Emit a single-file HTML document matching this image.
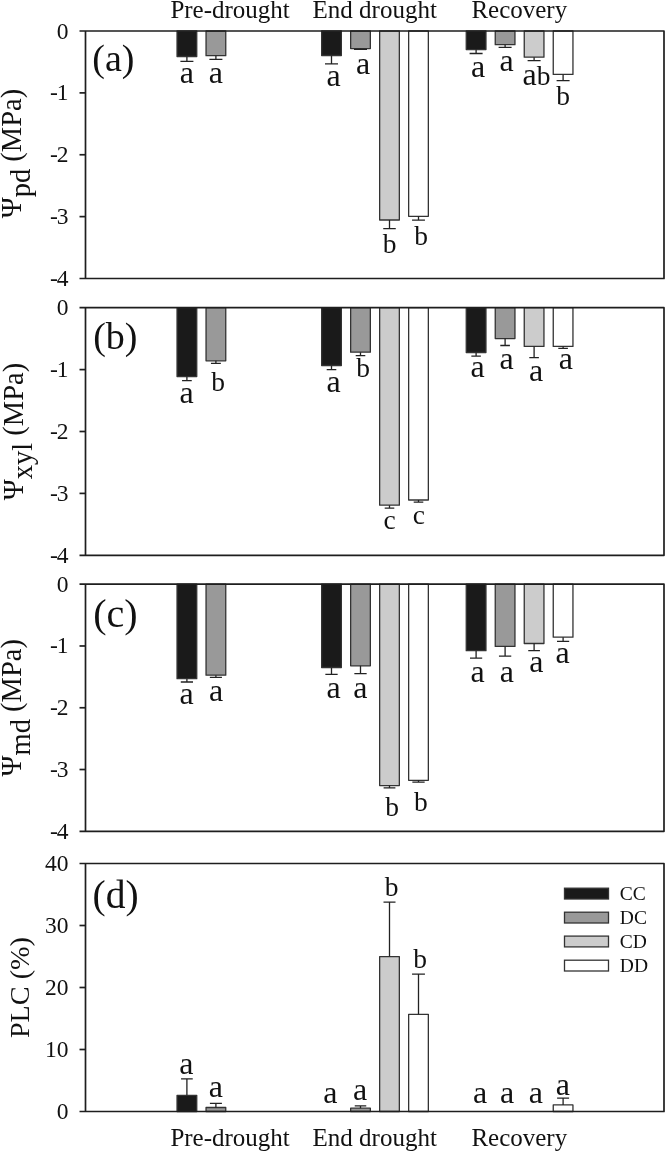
<!DOCTYPE html>
<html><head><meta charset="utf-8"><style>
html,body{margin:0;padding:0;background:#fff;width:666px;height:1153px;overflow:hidden}
text{fill:#111}
</style></head><body>
<svg width="666" height="1153" viewBox="0 0 666 1153" style="display:block;filter:grayscale(1)">
<rect width="666" height="1153" fill="#fff"/>
<rect x="177.05" y="31.00" width="19.70" height="25.50" fill="#1a1a1a" stroke="#333" stroke-width="1.3" stroke-linejoin="round"/>
<path d="M186.90 56.50V61.40M180.40 61.40H193.40" stroke="#222" stroke-width="1.3" fill="none"/>
<rect x="206.05" y="31.00" width="19.70" height="24.70" fill="#999999" stroke="#333" stroke-width="1.3" stroke-linejoin="round"/>
<path d="M215.90 55.70V59.30M209.40 59.30H222.40" stroke="#222" stroke-width="1.3" fill="none"/>
<rect x="321.65" y="31.00" width="19.70" height="24.50" fill="#1a1a1a" stroke="#333" stroke-width="1.3" stroke-linejoin="round"/>
<path d="M331.50 55.50V63.90M325.00 63.90H338.00" stroke="#222" stroke-width="1.3" fill="none"/>
<rect x="350.65" y="31.00" width="19.70" height="17.60" fill="#999999" stroke="#333" stroke-width="1.3" stroke-linejoin="round"/>
<path d="M360.50 48.60V49.30M354.00 49.30H367.00" stroke="#222" stroke-width="1.3" fill="none"/>
<rect x="379.65" y="31.00" width="19.70" height="189.00" fill="#cccccc" stroke="#333" stroke-width="1.3" stroke-linejoin="round"/>
<path d="M389.50 220.00V228.60M383.25 228.60H395.75" stroke="#222" stroke-width="1.3" fill="none"/>
<rect x="408.65" y="31.00" width="19.70" height="185.30" fill="#ffffff" stroke="#333" stroke-width="1.3" stroke-linejoin="round"/>
<path d="M418.50 216.30V220.20M412.05 220.20H424.95" stroke="#222" stroke-width="1.3" fill="none"/>
<rect x="466.25" y="31.00" width="19.70" height="18.60" fill="#1a1a1a" stroke="#333" stroke-width="1.3" stroke-linejoin="round"/>
<path d="M476.10 49.60V53.50M469.60 53.50H482.60" stroke="#222" stroke-width="1.3" fill="none"/>
<rect x="495.25" y="31.00" width="19.70" height="13.70" fill="#999999" stroke="#333" stroke-width="1.3" stroke-linejoin="round"/>
<path d="M505.10 44.70V47.30M498.60 47.30H511.60" stroke="#222" stroke-width="1.3" fill="none"/>
<rect x="524.25" y="31.00" width="19.70" height="26.20" fill="#cccccc" stroke="#333" stroke-width="1.3" stroke-linejoin="round"/>
<path d="M534.10 57.20V60.70M527.60 60.70H540.60" stroke="#222" stroke-width="1.3" fill="none"/>
<rect x="553.25" y="31.00" width="19.70" height="43.40" fill="#ffffff" stroke="#333" stroke-width="1.3" stroke-linejoin="round"/>
<path d="M563.10 74.40V80.60M556.60 80.60H569.60" stroke="#222" stroke-width="1.3" fill="none"/>
<rect x="177.05" y="307.70" width="19.70" height="68.90" fill="#1a1a1a" stroke="#333" stroke-width="1.3" stroke-linejoin="round"/>
<path d="M186.90 376.60V380.70M182.05 380.70H191.75" stroke="#222" stroke-width="1.3" fill="none"/>
<rect x="206.05" y="307.70" width="19.70" height="53.10" fill="#999999" stroke="#333" stroke-width="1.3" stroke-linejoin="round"/>
<path d="M215.90 360.80V363.30M210.95 363.30H220.85" stroke="#222" stroke-width="1.3" fill="none"/>
<rect x="321.65" y="307.70" width="19.70" height="57.80" fill="#1a1a1a" stroke="#333" stroke-width="1.3" stroke-linejoin="round"/>
<path d="M331.50 365.50V369.70M326.70 369.70H336.30" stroke="#222" stroke-width="1.3" fill="none"/>
<rect x="350.65" y="307.70" width="19.70" height="44.50" fill="#999999" stroke="#333" stroke-width="1.3" stroke-linejoin="round"/>
<path d="M360.50 352.20V355.60M355.70 355.60H365.30" stroke="#222" stroke-width="1.3" fill="none"/>
<rect x="379.65" y="307.70" width="19.70" height="197.50" fill="#cccccc" stroke="#333" stroke-width="1.3" stroke-linejoin="round"/>
<path d="M389.50 505.20V508.10M384.70 508.10H394.30" stroke="#222" stroke-width="1.3" fill="none"/>
<rect x="408.65" y="307.70" width="19.70" height="192.30" fill="#ffffff" stroke="#333" stroke-width="1.3" stroke-linejoin="round"/>
<path d="M418.50 500.00V502.10M413.70 502.10H423.30" stroke="#222" stroke-width="1.3" fill="none"/>
<rect x="466.25" y="307.70" width="19.70" height="44.80" fill="#1a1a1a" stroke="#333" stroke-width="1.3" stroke-linejoin="round"/>
<path d="M476.10 352.50V356.10M471.35 356.10H480.85" stroke="#222" stroke-width="1.3" fill="none"/>
<rect x="495.25" y="307.70" width="19.70" height="30.90" fill="#999999" stroke="#333" stroke-width="1.3" stroke-linejoin="round"/>
<path d="M505.10 338.60V345.50M500.30 345.50H509.90" stroke="#222" stroke-width="1.3" fill="none"/>
<rect x="524.25" y="307.70" width="19.70" height="38.70" fill="#cccccc" stroke="#333" stroke-width="1.3" stroke-linejoin="round"/>
<path d="M534.10 346.40V357.70M529.30 357.70H538.90" stroke="#222" stroke-width="1.3" fill="none"/>
<rect x="553.25" y="307.70" width="19.70" height="38.70" fill="#ffffff" stroke="#333" stroke-width="1.3" stroke-linejoin="round"/>
<path d="M563.10 346.40V348.30M558.30 348.30H567.90" stroke="#222" stroke-width="1.3" fill="none"/>
<rect x="177.05" y="584.20" width="19.70" height="94.50" fill="#1a1a1a" stroke="#333" stroke-width="1.3" stroke-linejoin="round"/>
<path d="M186.90 678.70V682.00M180.80 682.00H193.00" stroke="#222" stroke-width="1.3" fill="none"/>
<rect x="206.05" y="584.20" width="19.70" height="91.00" fill="#999999" stroke="#333" stroke-width="1.3" stroke-linejoin="round"/>
<path d="M215.90 675.20V677.30M209.85 677.30H221.95" stroke="#222" stroke-width="1.3" fill="none"/>
<rect x="321.65" y="584.20" width="19.70" height="83.30" fill="#1a1a1a" stroke="#333" stroke-width="1.3" stroke-linejoin="round"/>
<path d="M331.50 667.50V674.40M325.35 674.40H337.65" stroke="#222" stroke-width="1.3" fill="none"/>
<rect x="350.65" y="584.20" width="19.70" height="81.60" fill="#999999" stroke="#333" stroke-width="1.3" stroke-linejoin="round"/>
<path d="M360.50 665.80V673.60M354.35 673.60H366.65" stroke="#222" stroke-width="1.3" fill="none"/>
<rect x="379.65" y="584.20" width="19.70" height="201.40" fill="#cccccc" stroke="#333" stroke-width="1.3" stroke-linejoin="round"/>
<path d="M389.50 785.60V787.90M383.60 787.90H395.40" stroke="#222" stroke-width="1.3" fill="none"/>
<rect x="408.65" y="584.20" width="19.70" height="196.10" fill="#ffffff" stroke="#333" stroke-width="1.3" stroke-linejoin="round"/>
<path d="M418.50 780.30V782.10M412.35 782.10H424.65" stroke="#222" stroke-width="1.3" fill="none"/>
<rect x="466.25" y="584.20" width="19.70" height="66.50" fill="#1a1a1a" stroke="#333" stroke-width="1.3" stroke-linejoin="round"/>
<path d="M476.10 650.70V658.10M470.00 658.10H482.20" stroke="#222" stroke-width="1.3" fill="none"/>
<rect x="495.25" y="584.20" width="19.70" height="62.20" fill="#999999" stroke="#333" stroke-width="1.3" stroke-linejoin="round"/>
<path d="M505.10 646.40V656.10M498.95 656.10H511.25" stroke="#222" stroke-width="1.3" fill="none"/>
<rect x="524.25" y="584.20" width="19.70" height="59.30" fill="#cccccc" stroke="#333" stroke-width="1.3" stroke-linejoin="round"/>
<path d="M534.10 643.50V650.70M528.25 650.70H539.95" stroke="#222" stroke-width="1.3" fill="none"/>
<rect x="553.25" y="584.20" width="19.70" height="53.00" fill="#ffffff" stroke="#333" stroke-width="1.3" stroke-linejoin="round"/>
<path d="M563.10 637.20V641.30M557.00 641.30H569.20" stroke="#222" stroke-width="1.3" fill="none"/>
<rect x="177.05" y="1095.30" width="19.70" height="16.20" fill="#1a1a1a" stroke="#333" stroke-width="1.3" stroke-linejoin="round"/>
<path d="M186.90 1095.30V1078.80M181.05 1078.80H192.75" stroke="#222" stroke-width="1.3" fill="none"/>
<rect x="206.05" y="1107.50" width="19.70" height="4.00" fill="#999999" stroke="#333" stroke-width="1.3" stroke-linejoin="round"/>
<path d="M215.90 1107.50V1103.40M209.90 1103.40H221.90" stroke="#222" stroke-width="1.3" fill="none"/>
<rect x="350.65" y="1108.20" width="19.70" height="3.30" fill="#999999" stroke="#333" stroke-width="1.3" stroke-linejoin="round"/>
<path d="M360.50 1108.20V1105.80M354.75 1105.80H366.25" stroke="#222" stroke-width="1.3" fill="none"/>
<rect x="379.65" y="956.60" width="19.70" height="154.90" fill="#cccccc" stroke="#333" stroke-width="1.3" stroke-linejoin="round"/>
<path d="M389.50 956.60V902.20M383.50 902.20H395.50" stroke="#222" stroke-width="1.3" fill="none"/>
<rect x="408.65" y="1014.30" width="19.70" height="97.20" fill="#ffffff" stroke="#333" stroke-width="1.3" stroke-linejoin="round"/>
<path d="M418.50 1014.30V974.20M412.05 974.20H424.95" stroke="#222" stroke-width="1.3" fill="none"/>
<rect x="553.25" y="1104.90" width="19.70" height="6.60" fill="#ffffff" stroke="#333" stroke-width="1.3" stroke-linejoin="round"/>
<path d="M563.10 1104.90V1098.10M557.10 1098.10H569.10" stroke="#222" stroke-width="1.3" fill="none"/>
<path d="M79.5 31.0H664.0V278.5H79.5M85.5 31.0V278.5" stroke="#1e1e1e" stroke-width="1.7" stroke-linejoin="round" fill="none"/>
<text x="68.6" y="38.50" text-anchor="end" font-size="23.5" style='font-family:"Liberation Serif",serif'>0</text>
<path d="M79.5 92.88H85.5" stroke="#1e1e1e" stroke-width="1.7"/>
<text x="68.6" y="100.38" text-anchor="end" font-size="23.5" style='font-family:"Liberation Serif",serif'>-<tspan dx="-0.9">1</tspan></text>
<path d="M79.5 154.75H85.5" stroke="#1e1e1e" stroke-width="1.7"/>
<text x="68.6" y="162.25" text-anchor="end" font-size="23.5" style='font-family:"Liberation Serif",serif'>-<tspan dx="-0.9">2</tspan></text>
<path d="M79.5 216.62H85.5" stroke="#1e1e1e" stroke-width="1.7"/>
<text x="68.6" y="224.12" text-anchor="end" font-size="23.5" style='font-family:"Liberation Serif",serif'>-<tspan dx="-0.9">3</tspan></text>
<text x="68.6" y="286.00" text-anchor="end" font-size="23.5" style='font-family:"Liberation Serif",serif'>-<tspan dx="-0.9">4</tspan></text>
<path d="M79.5 307.7H664.0V555.3H79.5M85.5 307.7V555.3" stroke="#1e1e1e" stroke-width="1.7" stroke-linejoin="round" fill="none"/>
<text x="68.6" y="315.20" text-anchor="end" font-size="23.5" style='font-family:"Liberation Serif",serif'>0</text>
<path d="M79.5 369.60H85.5" stroke="#1e1e1e" stroke-width="1.7"/>
<text x="68.6" y="377.10" text-anchor="end" font-size="23.5" style='font-family:"Liberation Serif",serif'>-<tspan dx="-0.9">1</tspan></text>
<path d="M79.5 431.50H85.5" stroke="#1e1e1e" stroke-width="1.7"/>
<text x="68.6" y="439.00" text-anchor="end" font-size="23.5" style='font-family:"Liberation Serif",serif'>-<tspan dx="-0.9">2</tspan></text>
<path d="M79.5 493.40H85.5" stroke="#1e1e1e" stroke-width="1.7"/>
<text x="68.6" y="500.90" text-anchor="end" font-size="23.5" style='font-family:"Liberation Serif",serif'>-<tspan dx="-0.9">3</tspan></text>
<text x="68.6" y="562.80" text-anchor="end" font-size="23.5" style='font-family:"Liberation Serif",serif'>-<tspan dx="-0.9">4</tspan></text>
<path d="M79.5 584.2H664.0V831.3H79.5M85.5 584.2V831.3" stroke="#1e1e1e" stroke-width="1.7" stroke-linejoin="round" fill="none"/>
<text x="68.6" y="591.70" text-anchor="end" font-size="23.5" style='font-family:"Liberation Serif",serif'>0</text>
<path d="M79.5 645.98H85.5" stroke="#1e1e1e" stroke-width="1.7"/>
<text x="68.6" y="653.48" text-anchor="end" font-size="23.5" style='font-family:"Liberation Serif",serif'>-<tspan dx="-0.9">1</tspan></text>
<path d="M79.5 707.75H85.5" stroke="#1e1e1e" stroke-width="1.7"/>
<text x="68.6" y="715.25" text-anchor="end" font-size="23.5" style='font-family:"Liberation Serif",serif'>-<tspan dx="-0.9">2</tspan></text>
<path d="M79.5 769.52H85.5" stroke="#1e1e1e" stroke-width="1.7"/>
<text x="68.6" y="777.02" text-anchor="end" font-size="23.5" style='font-family:"Liberation Serif",serif'>-<tspan dx="-0.9">3</tspan></text>
<text x="68.6" y="838.80" text-anchor="end" font-size="23.5" style='font-family:"Liberation Serif",serif'>-<tspan dx="-0.9">4</tspan></text>
<path d="M79.5 863.5H664.0V1111.5H79.5M85.5 863.5V1111.5" stroke="#1e1e1e" stroke-width="1.7" stroke-linejoin="round" fill="none"/>
<text x="68.6" y="871.00" text-anchor="end" font-size="23.5" style='font-family:"Liberation Serif",serif'>40</text>
<path d="M79.5 925.50H85.5" stroke="#1e1e1e" stroke-width="1.7"/>
<text x="68.6" y="933.00" text-anchor="end" font-size="23.5" style='font-family:"Liberation Serif",serif'>30</text>
<path d="M79.5 987.50H85.5" stroke="#1e1e1e" stroke-width="1.7"/>
<text x="68.6" y="995.00" text-anchor="end" font-size="23.5" style='font-family:"Liberation Serif",serif'>20</text>
<path d="M79.5 1049.50H85.5" stroke="#1e1e1e" stroke-width="1.7"/>
<text x="68.6" y="1057.00" text-anchor="end" font-size="23.5" style='font-family:"Liberation Serif",serif'>10</text>
<text x="68.6" y="1119.00" text-anchor="end" font-size="23.5" style='font-family:"Liberation Serif",serif'>0</text>
<text x="186.90" y="82.60" text-anchor="middle" font-size="32" style='font-family:"Liberation Serif",serif'>a</text>
<text x="215.90" y="82.80" text-anchor="middle" font-size="32" style='font-family:"Liberation Serif",serif'>a</text>
<text x="333.60" y="85.50" text-anchor="middle" font-size="32" style='font-family:"Liberation Serif",serif'>a</text>
<text x="363.10" y="74.30" text-anchor="middle" font-size="32" style='font-family:"Liberation Serif",serif'>a</text>
<text x="389.50" y="253.30" text-anchor="middle" font-size="27.5" style='font-family:"Liberation Serif",serif'>b</text>
<text x="421.20" y="245.10" text-anchor="middle" font-size="27.5" style='font-family:"Liberation Serif",serif'>b</text>
<text x="478.05" y="77.00" text-anchor="middle" font-size="32" style='font-family:"Liberation Serif",serif'>a</text>
<text x="506.65" y="71.20" text-anchor="middle" font-size="32" style='font-family:"Liberation Serif",serif'>a</text>
<text x="536.40" y="85.30" text-anchor="middle" style='font-family:"Liberation Serif",serif'><tspan font-size="32">a</tspan><tspan font-size="27.5">b</tspan></text>
<text x="563.00" y="105.10" text-anchor="middle" font-size="27.5" style='font-family:"Liberation Serif",serif'>b</text>
<text x="186.50" y="403.20" text-anchor="middle" font-size="32" style='font-family:"Liberation Serif",serif'>a</text>
<text x="218.10" y="390.80" text-anchor="middle" font-size="27.5" style='font-family:"Liberation Serif",serif'>b</text>
<text x="333.60" y="392.30" text-anchor="middle" font-size="32" style='font-family:"Liberation Serif",serif'>a</text>
<text x="363.10" y="377.40" text-anchor="middle" font-size="27.5" style='font-family:"Liberation Serif",serif'>b</text>
<text x="389.50" y="529.20" text-anchor="middle" font-size="27.5" style='font-family:"Liberation Serif",serif'>c</text>
<text x="418.80" y="523.80" text-anchor="middle" font-size="27.5" style='font-family:"Liberation Serif",serif'>c</text>
<text x="477.70" y="376.90" text-anchor="middle" font-size="32" style='font-family:"Liberation Serif",serif'>a</text>
<text x="506.70" y="368.70" text-anchor="middle" font-size="32" style='font-family:"Liberation Serif",serif'>a</text>
<text x="536.10" y="380.50" text-anchor="middle" font-size="32" style='font-family:"Liberation Serif",serif'>a</text>
<text x="565.80" y="368.70" text-anchor="middle" font-size="32" style='font-family:"Liberation Serif",serif'>a</text>
<text x="186.70" y="704.30" text-anchor="middle" font-size="32" style='font-family:"Liberation Serif",serif'>a</text>
<text x="216.00" y="701.00" text-anchor="middle" font-size="32" style='font-family:"Liberation Serif",serif'>a</text>
<text x="333.70" y="697.90" text-anchor="middle" font-size="32" style='font-family:"Liberation Serif",serif'>a</text>
<text x="360.40" y="697.90" text-anchor="middle" font-size="32" style='font-family:"Liberation Serif",serif'>a</text>
<text x="392.10" y="816.40" text-anchor="middle" font-size="27.5" style='font-family:"Liberation Serif",serif'>b</text>
<text x="420.80" y="810.90" text-anchor="middle" font-size="27.5" style='font-family:"Liberation Serif",serif'>b</text>
<text x="477.50" y="681.50" text-anchor="middle" font-size="32" style='font-family:"Liberation Serif",serif'>a</text>
<text x="506.90" y="681.50" text-anchor="middle" font-size="32" style='font-family:"Liberation Serif",serif'>a</text>
<text x="536.30" y="671.90" text-anchor="middle" font-size="32" style='font-family:"Liberation Serif",serif'>a</text>
<text x="562.50" y="663.40" text-anchor="middle" font-size="32" style='font-family:"Liberation Serif",serif'>a</text>
<text x="186.40" y="1073.60" text-anchor="middle" font-size="32" style='font-family:"Liberation Serif",serif'>a</text>
<text x="215.80" y="1097.00" text-anchor="middle" font-size="32" style='font-family:"Liberation Serif",serif'>a</text>
<text x="330.30" y="1103.30" text-anchor="middle" font-size="32" style='font-family:"Liberation Serif",serif'>a</text>
<text x="360.00" y="1100.30" text-anchor="middle" font-size="32" style='font-family:"Liberation Serif",serif'>a</text>
<text x="391.60" y="895.60" text-anchor="middle" font-size="27.5" style='font-family:"Liberation Serif",serif'>b</text>
<text x="420.10" y="967.70" text-anchor="middle" font-size="27.5" style='font-family:"Liberation Serif",serif'>b</text>
<text x="480.10" y="1103.30" text-anchor="middle" font-size="32" style='font-family:"Liberation Serif",serif'>a</text>
<text x="507.00" y="1103.30" text-anchor="middle" font-size="32" style='font-family:"Liberation Serif",serif'>a</text>
<text x="535.90" y="1103.10" text-anchor="middle" font-size="32" style='font-family:"Liberation Serif",serif'>a</text>
<text x="562.95" y="1095.00" text-anchor="middle" font-size="32" style='font-family:"Liberation Serif",serif'>a</text>
<text x="92.3" y="71.2" font-size="38" style='font-family:"Liberation Serif",serif'>(a)</text>
<text x="93.2" y="348.7" font-size="38" style='font-family:"Liberation Serif",serif'>(b)</text>
<text x="93.2" y="627.2" font-size="40" style='font-family:"Liberation Serif",serif'>(c)</text>
<text x="92.6" y="907.6" font-size="39.5" style='font-family:"Liberation Serif",serif'>(d)</text>
<text x="230.10" y="18.4" text-anchor="middle" font-size="25" style='font-family:"Liberation Serif",serif'>Pre-drought</text>
<text x="230.10" y="1146.2" text-anchor="middle" font-size="25" style='font-family:"Liberation Serif",serif'>Pre-drought</text>
<text x="374.70" y="18.4" text-anchor="middle" font-size="25" style='font-family:"Liberation Serif",serif'>End drought</text>
<text x="374.70" y="1146.2" text-anchor="middle" font-size="25" style='font-family:"Liberation Serif",serif'>End drought</text>
<text x="519.30" y="18.4" text-anchor="middle" font-size="25" style='font-family:"Liberation Serif",serif'>Recovery</text>
<text x="519.30" y="1146.2" text-anchor="middle" font-size="25" style='font-family:"Liberation Serif",serif'>Recovery</text>
<text transform="translate(21,153.55) rotate(-90)" text-anchor="middle" font-size="28.5" style='font-family:"Liberation Serif",serif'>Ψ<tspan dy="8.5">pd</tspan><tspan dy="-8.5"> (MPa)</tspan></text>
<text transform="translate(23.2,431.50) rotate(-90)" text-anchor="middle" font-size="28.5" style='font-family:"Liberation Serif",serif'>Ψ<tspan dy="8.5">xyl</tspan><tspan dy="-8.5"> (MPa)</tspan></text>
<text transform="translate(21,707.75) rotate(-90)" text-anchor="middle" font-size="28.5" style='font-family:"Liberation Serif",serif'>Ψ<tspan dy="8.5">md</tspan><tspan dy="-8.5"> (MPa)</tspan></text>
<text transform="translate(29,987.60) rotate(-90)" text-anchor="middle" font-size="28.2" style='font-family:"Liberation Serif",serif'>PLC (%)</text>
<rect x="564.5" y="888.20" width="44" height="10.8" fill="#1a1a1a" stroke="#333" stroke-width="1.3"/>
<text x="619.8" y="899.80" font-size="19.5" style='font-family:"Liberation Serif",serif'>CC</text>
<rect x="564.5" y="912.20" width="44" height="10.8" fill="#999999" stroke="#333" stroke-width="1.3"/>
<text x="619.8" y="923.80" font-size="19.5" style='font-family:"Liberation Serif",serif'>DC</text>
<rect x="564.5" y="936.10" width="44" height="10.8" fill="#cccccc" stroke="#333" stroke-width="1.3"/>
<text x="619.8" y="947.70" font-size="19.5" style='font-family:"Liberation Serif",serif'>CD</text>
<rect x="564.5" y="960.20" width="44" height="10.8" fill="#ffffff" stroke="#333" stroke-width="1.3"/>
<text x="619.8" y="971.80" font-size="19.5" style='font-family:"Liberation Serif",serif'>DD</text>
</svg>
</body></html>
